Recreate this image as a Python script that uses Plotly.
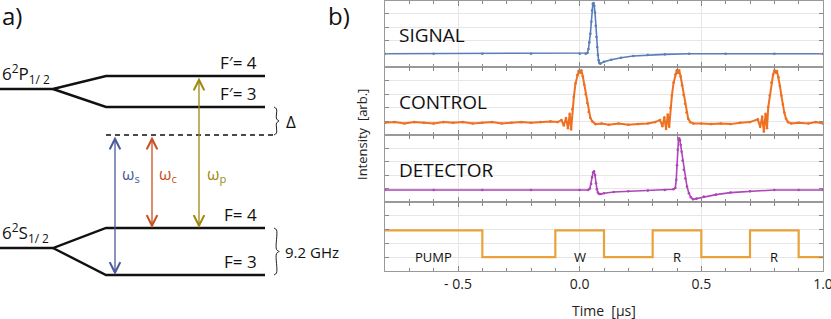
import plotly.graph_objects as go

# ---------------- right panel data (time in µs, intensity in arb. units) ----------------
sig_t = [-0.80, -0.60, -0.40, -0.20, 0.00, 0.025, 0.032, 0.036, 0.040, 0.044, 0.048, 0.051,
         0.054, 0.057, 0.060, 0.063, 0.066, 0.069, 0.072, 0.075, 0.078, 0.081, 0.085, 0.10,
         0.13, 0.17, 0.22, 0.28, 0.35, 0.45, 0.60, 0.80, 1.00]
sig_v = [0.20, 0.20, 0.20, 0.20, 0.20, 0.20, 0.21, 0.27, 0.37, 0.50, 0.68, 0.85,
         0.95, 0.96, 0.92, 0.82, 0.62, 0.45, 0.30, 0.18, 0.10, 0.06, 0.05, 0.08,
         0.11, 0.14, 0.165, 0.18, 0.19, 0.20, 0.20, 0.20, 0.20]

ctl_t = [-0.80, -0.76, -0.72, -0.68, -0.64, -0.60, -0.56, -0.52, -0.48, -0.44, -0.40, -0.36,
         -0.32, -0.28, -0.24, -0.20, -0.16, -0.12, -0.09,
         -0.075, -0.065, -0.056, -0.048, -0.041, -0.035, -0.030, -0.024, -0.017, -0.010,
         -0.004, 0.002, 0.007, 0.013, 0.019, 0.025, 0.031, 0.037, 0.044, 0.052, 0.065,
         0.09, 0.12, 0.16, 0.20, 0.24, 0.28, 0.31,
         0.330, 0.340, 0.348, 0.355, 0.362, 0.368, 0.373, 0.379, 0.386, 0.393, 0.399, 0.404,
         0.409, 0.415, 0.421, 0.427, 0.433, 0.439, 0.446, 0.454, 0.467,
         0.50, 0.54, 0.58, 0.62, 0.66, 0.70,
         0.732, 0.742, 0.750, 0.757, 0.764, 0.770, 0.775, 0.781, 0.788, 0.795, 0.801, 0.806,
         0.811, 0.817, 0.823, 0.829, 0.835, 0.841, 0.848, 0.856, 0.870,
         0.90, 0.94, 0.97, 1.00]
ctl_v = [0.18, 0.19, 0.17, 0.19, 0.18, 0.17, 0.19, 0.18, 0.19, 0.17, 0.18, 0.19,
         0.17, 0.18, 0.19, 0.18, 0.19, 0.20, 0.19,
         0.22, 0.14, 0.25, 0.10, 0.31, 0.08, 0.38, 0.56, 0.76, 0.88,
         0.94, 0.92, 0.95, 0.86, 0.74, 0.60, 0.47, 0.34, 0.25, 0.20, 0.16,
         0.17, 0.15, 0.17, 0.15, 0.16, 0.17, 0.19,
         0.22, 0.13, 0.26, 0.09, 0.30, 0.12, 0.40, 0.58, 0.77, 0.89, 0.95, 0.92,
         0.95, 0.86, 0.73, 0.59, 0.46, 0.33, 0.24, 0.19, 0.17,
         0.17, 0.16, 0.17, 0.16, 0.18, 0.19,
         0.23, 0.12, 0.27, 0.05, 0.31, 0.10, 0.41, 0.58, 0.77, 0.89, 0.95, 0.92,
         0.94, 0.85, 0.72, 0.58, 0.45, 0.33, 0.24, 0.19, 0.17,
         0.18, 0.17, 0.19, 0.17]

det_t = [-0.80, -0.60, -0.40, -0.20, 0.00, 0.035, 0.042, 0.047, 0.051, 0.055, 0.059, 0.063,
         0.067, 0.071, 0.075, 0.080, 0.088, 0.10, 0.14, 0.20, 0.28, 0.35, 0.385, 0.393,
         0.397, 0.400, 0.403, 0.406, 0.409, 0.412, 0.415, 0.419, 0.423, 0.428, 0.434, 0.441,
         0.449, 0.457, 0.466, 0.48, 0.51, 0.56, 0.62, 0.70, 0.80, 0.90, 1.00]
det_v = [0.18, 0.18, 0.18, 0.18, 0.18, 0.18, 0.20, 0.27, 0.37, 0.44, 0.46, 0.40,
         0.28, 0.19, 0.14, 0.12, 0.12, 0.13, 0.15, 0.16, 0.17, 0.18, 0.19, 0.21,
         0.33, 0.55, 0.78, 0.93, 0.95, 0.92, 0.85, 0.75, 0.62, 0.48, 0.35, 0.23,
         0.13, 0.07, 0.04, 0.05, 0.08, 0.11, 0.14, 0.16, 0.18, 0.18, 0.18]

pump_t = [-0.8, -0.4, -0.1, 0.1, 0.3, 0.5, 0.7, 0.9, 1.0]
pump_v = [0.59, 0.20, 0.59, 0.20, 0.59, 0.20, 0.59, 0.20, 0.20]
pump_labels = ["PUMP", "W", "R", "R"]
pump_label_t = [-0.6, 0.0, 0.4, 0.8]

trace_names = ["SIGNAL", "CONTROL", "DETECTOR"]
x_tickvals = [-0.5, 0.0, 0.5, 1.0]
x_ticktext = ["- 0.5", "0.0", "0.5", "1.0"]

# ---------------- left panel data (energy, arb. units) ----------------
E_P, E_P_F4, E_P_F3 = 230, 243, 212
E_virtual = 184
E_S, E_S_F4, E_S_F3 = 71, 91, 44
level_labels = ["F\u2032= 4", "F\u2032= 3", "F= 4", "F= 3"]
level_values = [E_P_F4, E_P_F3, E_S_F4, E_S_F3]

# ---------------- styling ----------------
FONT = "Open Sans"
C_SIG, C_CTL, C_DET, C_PUMP = "#5A7DBA", "#EE7020", "#AE45B8", "#E9A23B"
C_WS, C_WC, C_WP = "#4B5A9A", "#C8501E", "#A0880E"
W, H = 831, 319
XL, XR = 385 / W, 823 / W
strip_px = [(0.5, 67), (67, 135), (135, 202), (202, 271)]
doms = [[1 - b / H, 1 - a / H] for a, b in strip_px]

fig = go.Figure()

series = [(sig_t, sig_v, C_SIG, 1.6), (ctl_t, ctl_v, C_CTL, 2.0), (det_t, det_v, C_DET, 1.6)]
for i, (t, v, c, w) in enumerate(series):
    sfx = "" if i == 0 else str(i + 1)
    fig.add_trace(go.Scatter(x=t, y=v, mode="lines+markers", line=dict(color=c, width=w),
                             marker=dict(size=2.6, color=c), xaxis="x" + sfx, yaxis="y" + sfx,
                             hoverinfo="skip"))
fig.add_trace(go.Scatter(x=pump_t, y=pump_v, mode="lines", line=dict(color=C_PUMP, width=2.2, shape="hv"),
                         xaxis="x4", yaxis="y4", hoverinfo="skip"))

# ---------------- left diagram traces ----------------
xs_split = [0, 53, 106, 265]
for c, up, lo in [(E_P, E_P_F4, E_P_F3), (E_S, E_S_F4, E_S_F3)]:
    fig.add_trace(go.Scatter(
        x=[xs_split[0], xs_split[1], xs_split[2], xs_split[3], None, xs_split[1], xs_split[2], xs_split[3]],
        y=[c, c, up, up, None, c, lo, lo], mode="lines",
        line=dict(color="#111111", width=2.4), xaxis="x5", yaxis="y5", hoverinfo="skip"))
fig.add_trace(go.Scatter(x=[106, 273], y=[E_virtual, E_virtual], mode="lines",
                         line=dict(color="#111111", width=1.5, dash="5px,4px"),
                         xaxis="x5", yaxis="y5", hoverinfo="skip"))


def brace(x0, ytop, ybot, w=5):
    mid = (ytop + ybot) / 2
    return ([x0, x0 + w * 0.5, x0 + w * 0.5, x0 + w, x0 + w * 0.5, x0 + w * 0.5, x0],
            [ytop, ytop - 2, mid + 2, mid, mid - 2, ybot + 2, ybot])


for (yt, yb) in [(E_P_F3, E_virtual), (E_S_F4, E_S_F3)]:
    bx, by = brace(274, yt, yb)
    fig.add_trace(go.Scatter(x=bx, y=by, mode="lines", line=dict(color="#222222", width=1, shape="spline"),
                             xaxis="x5", yaxis="y5", hoverinfo="skip"))

ann = []
# arrows
for xpos, y0, y1, col in [(115, E_virtual, E_S_F3, C_WS), (152, E_virtual, E_S_F4, C_WC),
                          (199, E_P_F4, E_S_F4, C_WP)]:
    ann.append(dict(x=xpos, y=y1, ax=xpos, ay=y0, xref="x5", yref="y5", axref="x5", ayref="y5",
                    text="", showarrow=True, arrowhead=5, startarrowhead=5, arrowside="end+start",
                    arrowsize=1.6, startarrowsize=1.6, arrowwidth=1.3, arrowcolor=col))
for txt, xpos, col in [("ω<sub>s</sub>", 131, C_WS), ("ω<sub>c</sub>", 168, C_WC), ("ω<sub>p</sub>", 216, C_WP)]:
    ann.append(dict(x=xpos, y=145, xref="x5", yref="y5", text=txt, showarrow=False,
                    font=dict(family=FONT, size=16, color=col)))
for lab, val in zip(level_labels, level_values):
    ann.append(dict(x=259, y=val + 14, xref="x5", yref="y5", text=lab, showarrow=False, xanchor="right",
                    font=dict(family=FONT, size=17, color="#111")))
for lab, val in [("6<sup>2</sup>P<sub>1/ 2</sub>", E_P), ("6<sup>2</sup>S<sub>1/ 2</sub>", E_S)]:
    ann.append(dict(x=0, y=val + 16, xref="x5", yref="y5", text=lab, showarrow=False, xanchor="left",
                    font=dict(family=FONT, size=17, color="#111")))
ann.append(dict(x=284, y=(E_P_F3 + E_virtual) / 2, xref="x5", yref="y5", text="Δ", showarrow=False,
                xanchor="left", font=dict(family=FONT, size=17, color="#111")))
ann.append(dict(x=283, y=(E_S_F4 + E_S_F3) / 2, xref="x5", yref="y5", text="9.2 GHz", showarrow=False,
                xanchor="left", font=dict(family=FONT, size=15, color="#111")))
ann.append(dict(x=0, y=1.01, xref="paper", yref="paper", text="a)", showarrow=False, xanchor="left",
                yanchor="top", font=dict(family=FONT, size=24, color="#111")))
ann.append(dict(x=326 / W, y=1.01, xref="paper", yref="paper", text="b)", showarrow=False, xanchor="left",
                yanchor="top", font=dict(family=FONT, size=24, color="#111")))

# right panel texts
for i, name in enumerate(trace_names):
    sfx = "" if i == 0 else str(i + 1)
    ann.append(dict(x=-0.752, y=0.48, xref="x", yref="y" + sfx, text=name, showarrow=False,
                    xanchor="left", font=dict(family=FONT, size=19, color="#111")))
for lab, t in zip(pump_labels, pump_label_t):
    ann.append(dict(x=t, y=0.2, xref="x", yref="y4", text=lab, showarrow=False,
                    font=dict(family=FONT, size=13, color="#111")))
ann.append(dict(x=604 / W, y=1 - 310 / H, xref="paper", yref="paper", text="Time  [μs]", showarrow=False,
                xanchor="center", yanchor="middle", font=dict(family=FONT, size=14, color="#222")))
ann.append(dict(x=362 / W, y=1 - 135 / H, xref="paper", yref="paper", text="Intensity  [arb.]",
                xanchor="center", yanchor="middle",
                showarrow=False, textangle=-90, font=dict(family=FONT, size=13, color="#222")))

layout = dict(width=W, height=H, margin=dict(l=0, r=0, t=0, b=0, autoexpand=False), showlegend=False,
              plot_bgcolor="white", paper_bgcolor="white", annotations=ann,
              font=dict(family=FONT, color="#222"))

for i in range(4):
    sfx = "" if i == 0 else str(i + 1)
    xa = dict(domain=[XL, XR], anchor="y" + sfx, range=[-0.8, 1.0], tickmode="array",
              tickvals=x_tickvals, ticktext=x_ticktext, showticklabels=(i == 3),
              ticklabeloverflow="allow", automargin=False,
              ticks="inside", ticklen=5, tickcolor="#888", showline=True, linecolor="#999",
              linewidth=1, mirror="ticks", showgrid=True, gridcolor="#E6E6E6", zeroline=False,
              tickfont=dict(family=FONT, size=14, color="#222"),
              minor=dict(tickmode="linear", tick0=0, dtick=0.1, ticks="inside", ticklen=3.5,
                         tickcolor="#888", showgrid=False))
    if i > 0:
        xa["matches"] = "x"
    ya = dict(domain=doms[i], anchor="x" + sfx, range=[0, 1], tick0=0, dtick=0.2, ticks="inside",
              ticklen=4, tickcolor="#888", showticklabels=False, showline=True, linecolor="#999",
              linewidth=1, mirror="ticks", showgrid=True, gridcolor="#E6E6E6", zeroline=False)
    layout["xaxis" + sfx] = xa
    layout["yaxis" + sfx] = ya

layout["xaxis5"] = dict(domain=[0, 350 / W], range=[0, 350], visible=False, anchor="y5")
layout["yaxis5"] = dict(domain=[0, 1], range=[0, H], visible=False, anchor="x5")

fig.update_layout(**layout)
fig.write_html("out.html", config={"displayModeBar": False},
               post_script="document.body.style.margin='0';document.body.style.overflow='hidden';")
